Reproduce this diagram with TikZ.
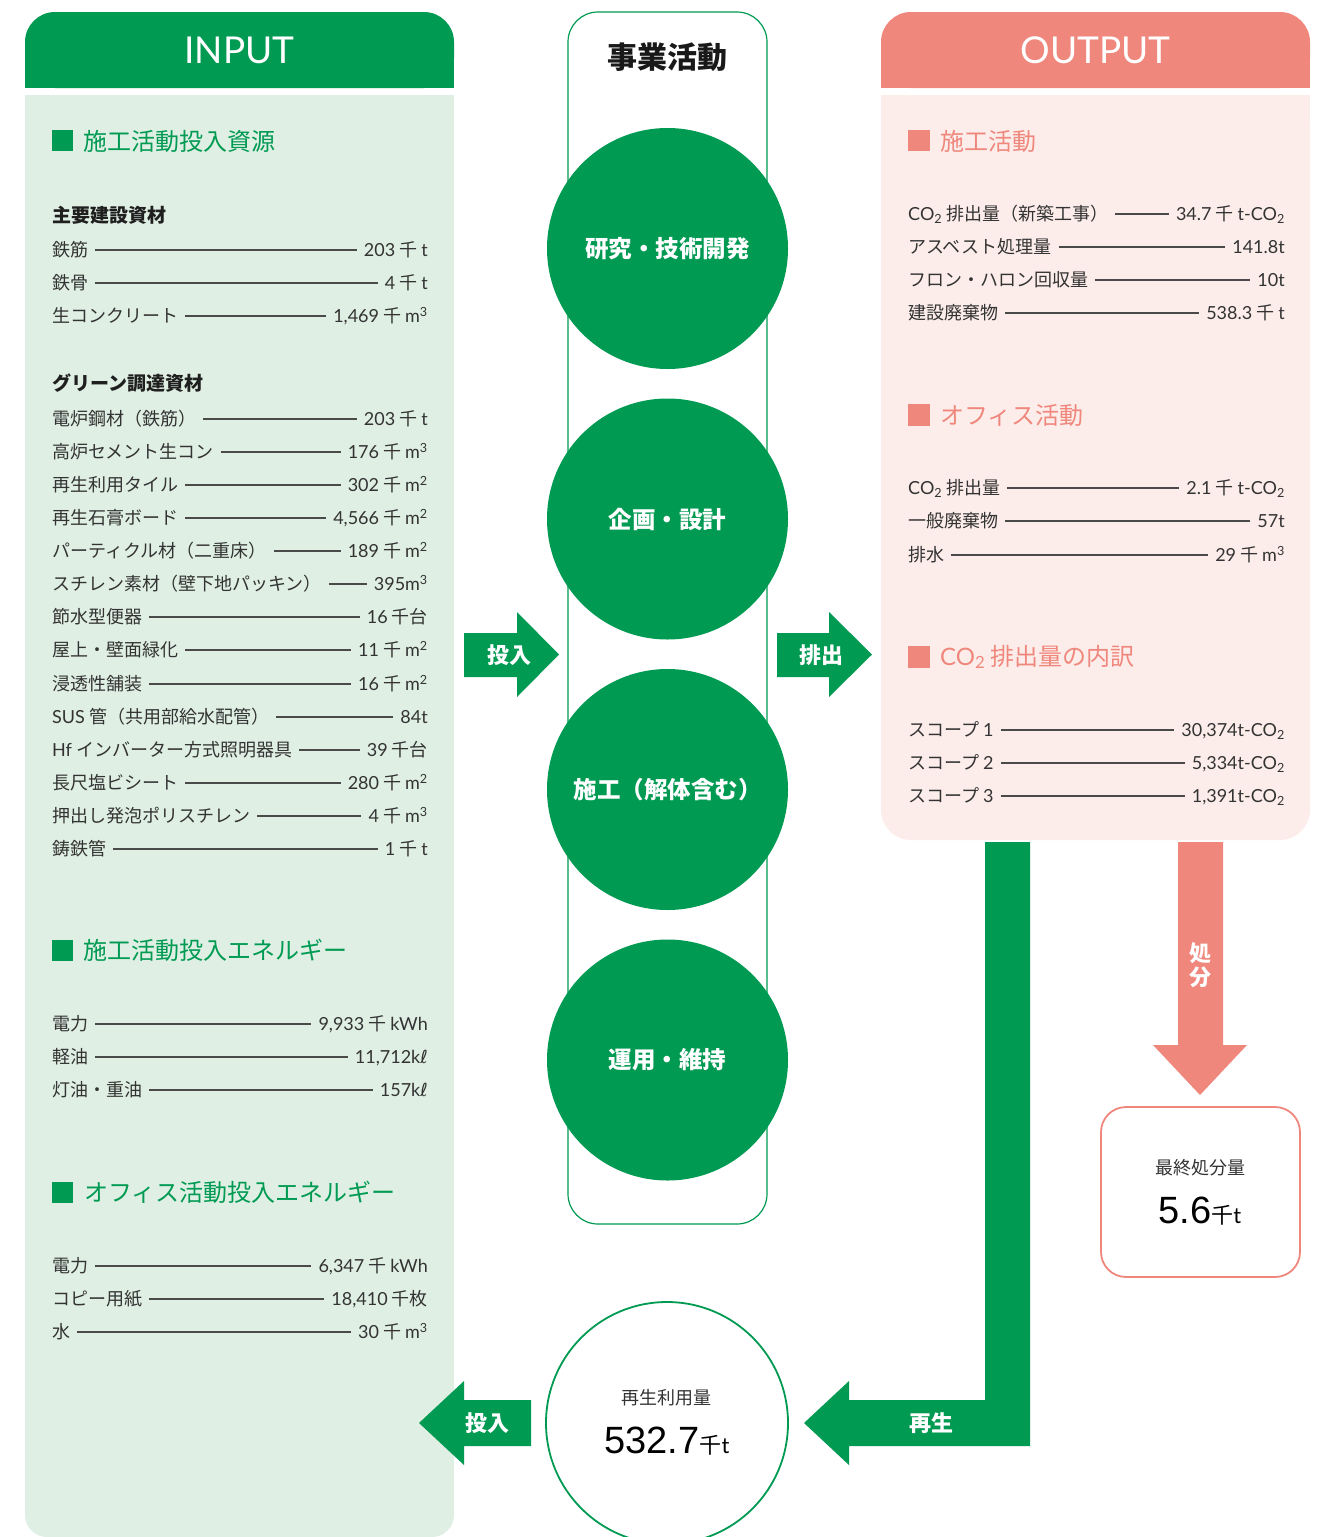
\documentclass[tikz,border=0pt]{standalone}
\usepackage{fontspec}
\setmainfont{Noto Sans CJK JP}
\newfontfamily\dvs{DejaVu Sans}
\newfontfamily\latf{Lato}
\newfontfamily\arl{Liberation Sans}
\definecolor{grn}{HTML}{009A52}
\definecolor{sal}{HTML}{F0877D}
\definecolor{lgrn}{HTML}{DFEFE4}
\definecolor{lpink}{HTML}{FCEDEA}
\definecolor{txt}{HTML}{333333}
\definecolor{ldr}{HTML}{4A4A4A}
\newcommand\lt[1]{{\latf #1}}
\newcommand\kl{\lt{k}{\dvs ℓ}}
\newcommand\mcube{\lt{m\textsuperscript{3}}}
\newcommand\msq{\lt{m\textsuperscript{2}}}
\newcommand\cotwo{\lt{CO\textsubscript{2}}}
\tikzset{
 itm/.style={inner sep=0pt, text=txt, font=\fontsize{18}{20}\selectfont, text height=15.8pt, text depth=2.2pt},
 leader/.style={draw=ldr, line width=1.2pt},
 subhd/.style={anchor=west, inner sep=0pt, font=\bfseries\fontsize{19}{22}\selectfont, text=black!88},
 sechg/.style={anchor=west, inner sep=0pt, font=\fontsize{24}{26}\selectfont, text=grn},
 secho/.style={anchor=west, inner sep=0pt, font=\fontsize{24}{26}\selectfont, text=sal},
 proc/.style={circle, fill=grn, minimum size=241pt, inner sep=0pt, text=white, font=\bfseries\fontsize{23.5}{26}\selectfont},
 arrlbl/.style={text=white, font=\bfseries\fontsize{22}{24}\selectfont, inner sep=0pt},
 headtxt/.style={text=white, font=\latf\fontsize{37}{40}\selectfont, inner sep=0pt},
}
\newcommand\inrow[4]{%
 \node[itm,anchor=west] (#1a) at (52,#2) {#3};
 \node[itm,anchor=east] (#1b) at (428,#2) {#4};
 \draw[leader] ([xshift=7pt]#1a.east) -- ([xshift=-7pt]#1b.west);}
\newcommand\outrow[4]{%
 \node[itm,anchor=west] (#1a) at (908,#2) {#3};
 \node[itm,anchor=east] (#1b) at (1285,#2) {#4};
 \draw[leader] ([xshift=7pt]#1a.east) -- ([xshift=-7pt]#1b.west);}
\begin{document}
\begin{tikzpicture}[x=1pt,y=-1pt]
\useasboundingbox (0,0) rectangle (1326,1537);
\clip (0,0) rectangle (1326,1537);
% ---------- INPUT panel
\fill[grn, rounded corners=30pt] (25,12) rectangle (454,88);
\fill[grn] (25,50) rectangle (454,88);
\fill[lgrn, rounded corners=22pt] (25,95) rectangle (454,1537);
\fill[lgrn] (25,95) rectangle (454,150);
\node[headtxt] (inhead) at (239.5,50) {INPUT};
% ---------- OUTPUT panel
\fill[sal, rounded corners=30pt] (881,12) rectangle (1310,88);
\fill[sal] (881,50) rectangle (1310,88);
\fill[lpink, rounded corners=30pt] (881,95) rectangle (1310,840);
\fill[lpink] (881,95) rectangle (1310,150);
\node[headtxt] (outhead) at (1095.5,50) {OUTPUT};
% ---------- business activity column
\draw[grn, line width=1.2pt, rounded corners=30pt] (568,12) rectangle (767,1224);
\node[inner sep=0pt, font=\bfseries\fontsize{30}{32}\selectfont, text=black!90] (biz) at (667.5,57) {事業活動};
\node[proc] (c1) at (667.5,248.5) {研究・技術開発};
\node[proc] (c2) at (667.5,519) {企画・設計};
\node[proc] (c3) at (667.5,789.5) {施工（解体含む）};
\node[proc] (c4) at (667.5,1060) {運用・維持};
% ---------- arrows in / out
\fill[grn] (464,633) -- (517,633) -- (517,612) -- (559,654.5) -- (517,697) -- (517,677) -- (464,677) -- cycle;
\node[arrlbl] (inarr) at (509,655) {投入};
\fill[grn] (777,633) -- (829,633) -- (829,612) -- (872,654.5) -- (829,697) -- (829,677) -- (777,677) -- cycle;
\node[arrlbl] (outarr) at (821,655) {排出};
% ---------- INPUT content
\fill[grn] (52,130) rectangle (73,151);
\node[sechg] (s1) at (83,141) {施工活動投入資源};
\node[subhd] (m1) at (52,215) {主要建設資材};
\inrow{r1}{250}{鉄筋}{\lt{203} 千 \lt{t}}
\inrow{r2}{283}{鉄骨}{\lt{4} 千 \lt{t}}
\inrow{r3}{316}{生コンクリート}{\lt{1,469} 千 \mcube}
\node[subhd] (m2) at (52,383) {グリーン調達資材};
\inrow{ga}{419}{電炉鋼材（鉄筋）}{\lt{203} 千 \lt{t}}
\inrow{gb}{452}{高炉セメント生コン}{\lt{176} 千 \mcube}
\inrow{gc}{485}{再生利用タイル}{\lt{302} 千 \msq}
\inrow{gd}{518}{再生石膏ボード}{\lt{4,566} 千 \msq}
\inrow{ge}{551}{パーティクル材（二重床）}{\lt{189} 千 \msq}
\inrow{gf}{584}{スチレン素材（壁下地パッキン）}{\lt{395}\mcube}
\inrow{gg}{617}{節水型便器}{\lt{16} 千台}
\inrow{gh}{650}{屋上・壁面緑化}{\lt{11} 千 \msq}
\inrow{gi}{684}{浸透性舗装}{\lt{16} 千 \msq}
\inrow{gj}{717}{\lt{SUS} 管（共用部給水配管）}{\lt{84t}}
\inrow{gk}{750}{\lt{Hf} インバーター方式照明器具}{\lt{39} 千台}
\inrow{gl}{783}{長尺塩ビシート}{\lt{280} 千 \msq}
\inrow{gm}{816}{押出し発泡ポリスチレン}{\lt{4} 千 \mcube}
\inrow{gn}{849}{鋳鉄管}{\lt{1} 千 \lt{t}}
\fill[grn] (52,940) rectangle (73,961);
\node[sechg] (s2) at (83,950) {施工活動投入エネルギー};
\inrow{ea}{1024}{電力}{\lt{9,933} 千 \lt{kWh}}
\inrow{eb}{1057}{軽油}{\lt{11,712}\kl}
\inrow{ec}{1090}{灯油・重油}{\lt{157}\kl}
\fill[grn] (52,1182) rectangle (73,1203);
\node[sechg] (s3) at (84,1192) {オフィス活動投入エネルギー};
\inrow{oa}{1266}{電力}{\lt{6,347} 千 \lt{kWh}}
\inrow{ob}{1299}{コピー用紙}{\lt{18,410} 千枚}
\inrow{oc}{1332}{水}{\lt{30} 千 \mcube}
% ---------- OUTPUT content
\fill[sal] (908,130) rectangle (930,151);
\node[secho] (t1) at (940,141) {施工活動};
\outrow{aa}{214}{\cotwo{} 排出量（新築工事）}{\lt{34.7} 千 \lt{t-CO\textsubscript{2}}}
\outrow{ab}{247}{アスベスト処理量}{\lt{141.8t}}
\outrow{ac}{280}{フロン・ハロン回収量}{\lt{10t}}
\outrow{ad}{313}{建設廃棄物}{\lt{538.3} 千 \lt{t}}
\fill[sal] (908,404) rectangle (930,426);
\node[secho] (t2) at (940,415) {オフィス活動};
\outrow{ba}{488}{\cotwo{} 排出量}{\lt{2.1} 千 \lt{t-CO\textsubscript{2}}}
\outrow{bb}{521}{一般廃棄物}{\lt{57t}}
\outrow{bc}{555}{排水}{\lt{29} 千 \mcube}
\fill[sal] (908,646) rectangle (930,668);
\node[secho] (t3) at (940,657) {\cotwo{} 排出量の内訳};
\outrow{ca}{730}{スコープ \lt{1}}{\lt{30,374t-CO\textsubscript{2}}}
\outrow{cb}{763}{スコープ \lt{2}}{\lt{5,334t-CO\textsubscript{2}}}
\outrow{cc}{796}{スコープ \lt{3}}{\lt{1,391t-CO\textsubscript{2}}}
% ---------- disposal arrow and box
\fill[sal] (1178,842) -- (1223,842) -- (1223,1045) -- (1247,1045) -- (1200,1095) -- (1153,1045) -- (1178,1045) -- cycle;
\node[arrlbl] (dA) at (1200.5,953) {処};
\node[arrlbl] (dB) at (1200.5,977) {分};
\node[draw=sal, line width=1.8pt, rounded corners=25pt, fill=white, minimum width=199pt, minimum height=170pt] (finbox) at (1200.5,1192) {};
\node[inner sep=0pt, text=txt, font=\fontsize{18}{20}\selectfont] (finlbl) at (1200,1168) {最終処分量};
\node[anchor=base, inner sep=0pt, text=black] (finval) at (1200,1223) {{\arl\fontsize{38}{40}\selectfont 5.6}{\fontsize{22}{24}\selectfont 千\lt{t}}};
% ---------- recycle arrow and circle
\fill[grn] (985,842) -- (1030,842) -- (1030,1446) -- (849,1446) -- (849,1465) -- (804,1423) -- (849,1381) -- (849,1400) -- (985,1400) -- cycle;
\node[arrlbl] (regen) at (931,1423) {再生};
\node[circle, draw=grn, line width=1.8pt, fill=white, minimum size=242pt, inner sep=0pt] (recyc) at (667,1423) {};
\node[inner sep=0pt, text=txt, font=\fontsize{18}{20}\selectfont] (reclbl) at (666,1398) {再生利用量};
\node[anchor=base, inner sep=0pt, text=black] (recval) at (667,1453) {{\arl\fontsize{38}{40}\selectfont 532.7}{\fontsize{22}{24}\selectfont 千\lt{t}}};
\fill[grn] (531,1400) -- (464,1400) -- (464,1381) -- (419,1423) -- (464,1465) -- (464,1446) -- (531,1446) -- cycle;
\node[arrlbl] (backin) at (487,1423) {投入};
\end{tikzpicture}
\end{document}
